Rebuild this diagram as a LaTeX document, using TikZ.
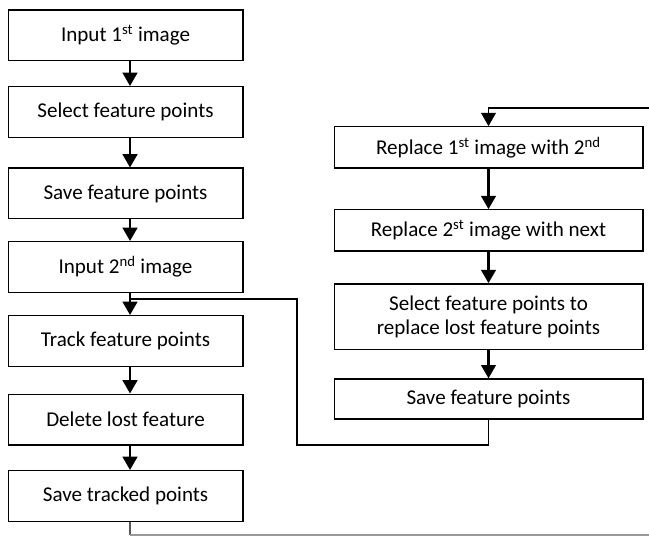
\documentclass[tikz,border=0pt]{standalone}
\usepackage{fontspec}
\setmainfont{Carlito}
\usetikzlibrary{arrows.meta}
\tikzset{
  stepbox/.style={draw,line width=1pt,minimum width=176pt,minimum height=38pt,inner sep=2pt,align=center,font=\fontsize{15.8}{18}\selectfont},
  rightbox/.style={stepbox,minimum width=231.5pt},
  flow/.style={line width=1.8pt,-{Triangle[width=11pt,length=10pt]}},
  loopline/.style={line width=0.9pt}
}
\begin{document}
\begin{tikzpicture}[x=0.75pt,y=-0.75pt]
    \useasboundingbox (0,0) rectangle (649,545);
    \coordinate (axisL) at (130,0);
    %% left column
    \node[stepbox] (input1) at (125.5,35.5) {Input 1\textsuperscript{st} image};
    \node[stepbox] (select1) at (125.5,112) {Select feature points};
    \node[stepbox] (save1) at (125.5,193.5) {Save feature points};
    \node[stepbox] (input2) at (125.5,267) {Input 2\textsuperscript{nd} image};
    \node[stepbox] (track) at (125.5,341) {Track feature points};
    \node[stepbox] (delete) at (125.5,419.5) {Delete lost feature};
    \node[stepbox] (savetr) at (125.5,496) {Save tracked points};
    %% right column
    \node[rightbox,minimum height=31pt] (repl1) at (488.5,147.5) {Replace 1\textsuperscript{st} image with 2\textsuperscript{nd}};
    \node[rightbox,minimum height=31pt] (repl2) at (488.5,230.5) {Replace 2\textsuperscript{st} image with next};
    \node[rightbox,minimum height=49pt] (select2) at (488.5,316.5) {Select feature points to\\replace lost feature points};
    \node[rightbox,minimum height=30pt] (save2) at (488.5,399) {Save feature points};
    %% loop coordinates
    \coordinate (join) at (130,299);
    \coordinate (loopB) at (297,445);
    \coordinate (exitB) at (649,535);
    \coordinate (exitT) at (649,108);
    %% left arrows
    \foreach \a/\b in {input1/select1,select1/save1,save1/input2,input2/track,track/delete,delete/savetr}
        \draw[flow] (\a.south -| axisL) -- (\b.north -| axisL);
    %% right arrows
    \foreach \a/\b in {repl1/repl2,repl2/select2,select2/save2}
        \draw[flow] (\a) -- (\b);
    %% back to tracking
    \draw[loopline] (save2.south) |- (loopB) |- (join);
    %% out to the right
    \draw[loopline,black!65] (savetr.south -| axisL) -- ++(0,13) coordinate (turnB);
    \draw[loopline,black!40] (turnB) -- (exitB);
    \draw[flow,line width=1.3pt] (exitT) -| (repl1.north);
\end{tikzpicture}
\end{document}
